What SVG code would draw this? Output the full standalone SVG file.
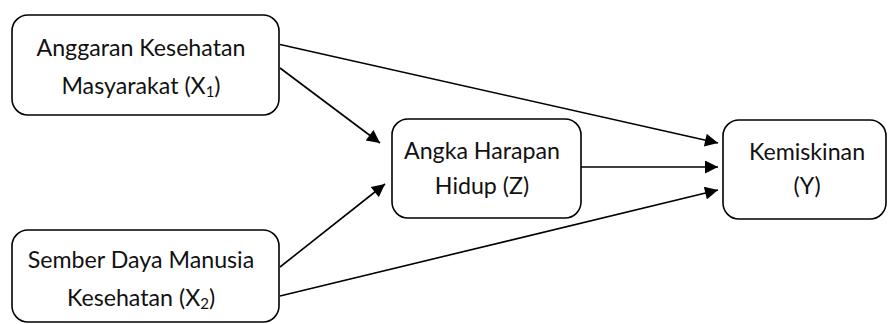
<svg xmlns="http://www.w3.org/2000/svg" width="888" height="324" viewBox="0 0 888 324">
<defs>
<style>
.box{fill:#fff;stroke:#000;stroke-width:1.6}
.t{font-family:Lato,"Open Sans","Liberation Sans",sans-serif;font-size:23.2px;fill:#111;text-anchor:middle}
.sub{font-size:15px}
.c{stroke:#000;stroke-width:1.6;fill:none;marker-end:url(#ah)}
</style>
<marker id="ah" viewBox="0 0 10 10" refX="10" refY="5" markerUnits="userSpaceOnUse" markerWidth="15" markerHeight="13" orient="auto">
<path d="M0,0 L10,5 L0,10 Z" fill="#000"/>
</marker>
</defs>
<rect width="888" height="324" fill="#fff"/>
<g id="connectors">
<line class="c" x1="280" y1="44.5" x2="718" y2="143"/>
<line class="c" x1="280" y1="68" x2="380" y2="143"/>
<line class="c" x1="280" y1="267" x2="385" y2="184"/>
<line class="c" x1="580" y1="167" x2="718" y2="167"/>
<line class="c" x1="280" y1="296" x2="718" y2="190"/>
</g>
<g id="x1">
<rect class="box" x="12" y="15" width="267" height="100" rx="16"/>
<text class="t" x="141" y="56">Anggaran Kesehatan</text>
<text class="t" x="141" y="94">Masyarakat (X<tspan class="sub" dy="3">1</tspan><tspan dy="-3">)</tspan></text>
</g>
<g id="x2">
<rect class="box" x="12" y="230" width="267" height="92" rx="16"/>
<text class="t" x="141" y="268">Sember Daya Manusia</text>
<text class="t" x="141" y="306">Kesehatan (X<tspan class="sub" dy="3">2</tspan><tspan dy="-3">)</tspan></text>
</g>
<g id="z">
<rect class="box" x="392" y="119" width="189" height="99" rx="16"/>
<text class="t" x="482" y="159">Angka Harapan</text>
<text class="t" x="482" y="194">Hidup (Z)</text>
</g>
<g id="y">
<rect class="box" x="723" y="120" width="163" height="99" rx="16"/>
<text class="t" x="807" y="160">Kemiskinan</text>
<text class="t" x="807" y="194">(Y)</text>
</g>
</svg>
